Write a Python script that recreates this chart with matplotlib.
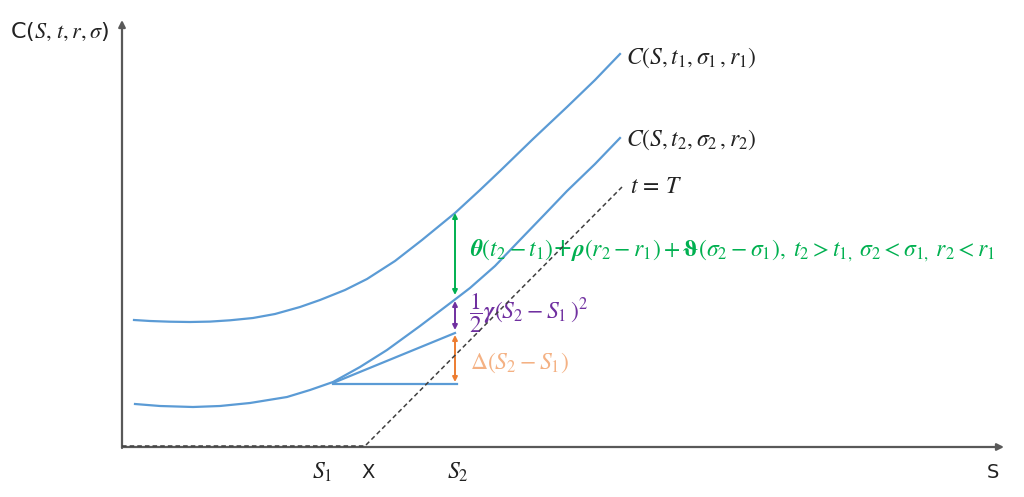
import matplotlib
matplotlib.use("Agg")
import matplotlib.pyplot as plt

plt.rcParams['mathtext.fontset'] = 'stix'

# Curves (pixel coordinates, y downward)
upper_x = [134, 150, 170, 190, 210, 230, 253, 275, 300, 320, 345, 367, 395, 422,
           455, 480, 500, 533, 567, 595, 620]
upper_y = [320, 321, 321.7, 322, 321.6, 320.3, 318, 314, 307, 300, 290, 279, 261, 240,
           213, 190, 171, 139, 107, 80, 54]
lower_x = [135, 160, 193, 220, 250, 287, 310, 333, 360, 387, 420, 453, 470, 495,
           518, 545, 567, 595, 620]
lower_y = [404, 406, 407, 406, 403, 397, 390, 382, 367, 350, 326, 301, 288, 266,
           242, 214, 191, 164, 138]
payoff_x = [122, 365, 622]
payoff_y = [446, 446, 187]
tangent_x = [333, 455]
tangent_y = [383, 333]
flat_x = [333, 457]
flat_y = [384, 384]

BLUE = '#5B9BD5'
GREEN = '#00B050'
PURPLE = '#7030A0'
ORANGE = '#ED7D31'
LORANGE = '#F4B183'
DARK = '#222222'

fig = plt.figure(figsize=(10.24, 4.97), dpi=100)
ax = fig.add_axes([0, 0, 1, 1])
ax.set_xlim(0, 1024)
ax.set_ylim(497, 0)
ax.axis('off')

# axes with arrows
ax.annotate('', xy=(1004, 447), xytext=(122, 447),
            arrowprops=dict(arrowstyle='-|>', color='#595959', lw=1.6,
                            mutation_scale=10, shrinkA=0, shrinkB=0), zorder=1)
ax.annotate('', xy=(122, 20), xytext=(122, 448),
            arrowprops=dict(arrowstyle='-|>', color='#595959', lw=1.6,
                            mutation_scale=10, shrinkA=0, shrinkB=0), zorder=1)

ax.plot(upper_x, upper_y, color=BLUE, lw=1.6, solid_joinstyle='round')
ax.plot(lower_x, lower_y, color=BLUE, lw=1.6, solid_joinstyle='round')
ax.plot(tangent_x, tangent_y, color=BLUE, lw=1.6)
ax.plot(flat_x, flat_y, color=BLUE, lw=1.6)
ax.plot(payoff_x, payoff_y, color='#404040', lw=1.1, ls=(0, (3, 2)), zorder=5)

def darrow(x, y0, y1, c):
    ax.annotate('', xy=(x, y0), xytext=(x, y1),
                arrowprops=dict(arrowstyle='<|-|>', color=c, lw=1.4,
                                mutation_scale=7, shrinkA=0, shrinkB=0))

darrow(455, 213, 295, GREEN)
darrow(455, 301, 330, PURPLE)
darrow(455, 335, 382, ORANGE)

fs = 17
ax.text(10, 32, r'C($S,\, t, r, \sigma$)', fontsize=16, va='center', ha='left', color=DARK)
ax.text(626, 58, r'$C(S, t_1, \sigma_1\,, r_1)$', fontsize=fs, va='center', ha='left', color=DARK)
ax.text(626, 140, r'$C(S, t_2, \sigma_2\,, r_2)$', fontsize=fs, va='center', ha='left', color=DARK)
ax.text(630, 186, r'$t\, =\, T$', fontsize=fs, va='center', ha='left', color=DARK)
ax.text(470, 251, r'$\boldsymbol{\theta}(t_2 - t_1)$+$\boldsymbol{\rho}(r_2 - r_1) + \boldsymbol{\vartheta}(\sigma_2 - \sigma_1),\; t_2 > t_{1,}\; \sigma_2 < \sigma_{1,}\; r_2 < r_1$',
        fontsize=fs, va='center', ha='left', color=GREEN)
ax.text(469, 313, r'$\dfrac{1}{2}\boldsymbol{\gamma}(S_2 - S_1\,)^2$', fontsize=fs, va='center', ha='left', color=PURPLE)
ax.text(470, 363, r'$\Delta(S_2 - S_1)$', fontsize=fs, va='center', ha='left', color=LORANGE)

ax.text(322, 472, r'$S_1$', fontsize=fs, va='center', ha='center', color=DARK)
ax.text(368, 472, 'X', fontsize=14, va='center', ha='center', color=DARK)
ax.text(458, 472, r'$S_2$', fontsize=fs, va='center', ha='center', color=DARK)
ax.text(993, 472, 'S', fontsize=14, va='center', ha='center', color=DARK)

fig.savefig('out.png', dpi=100)
